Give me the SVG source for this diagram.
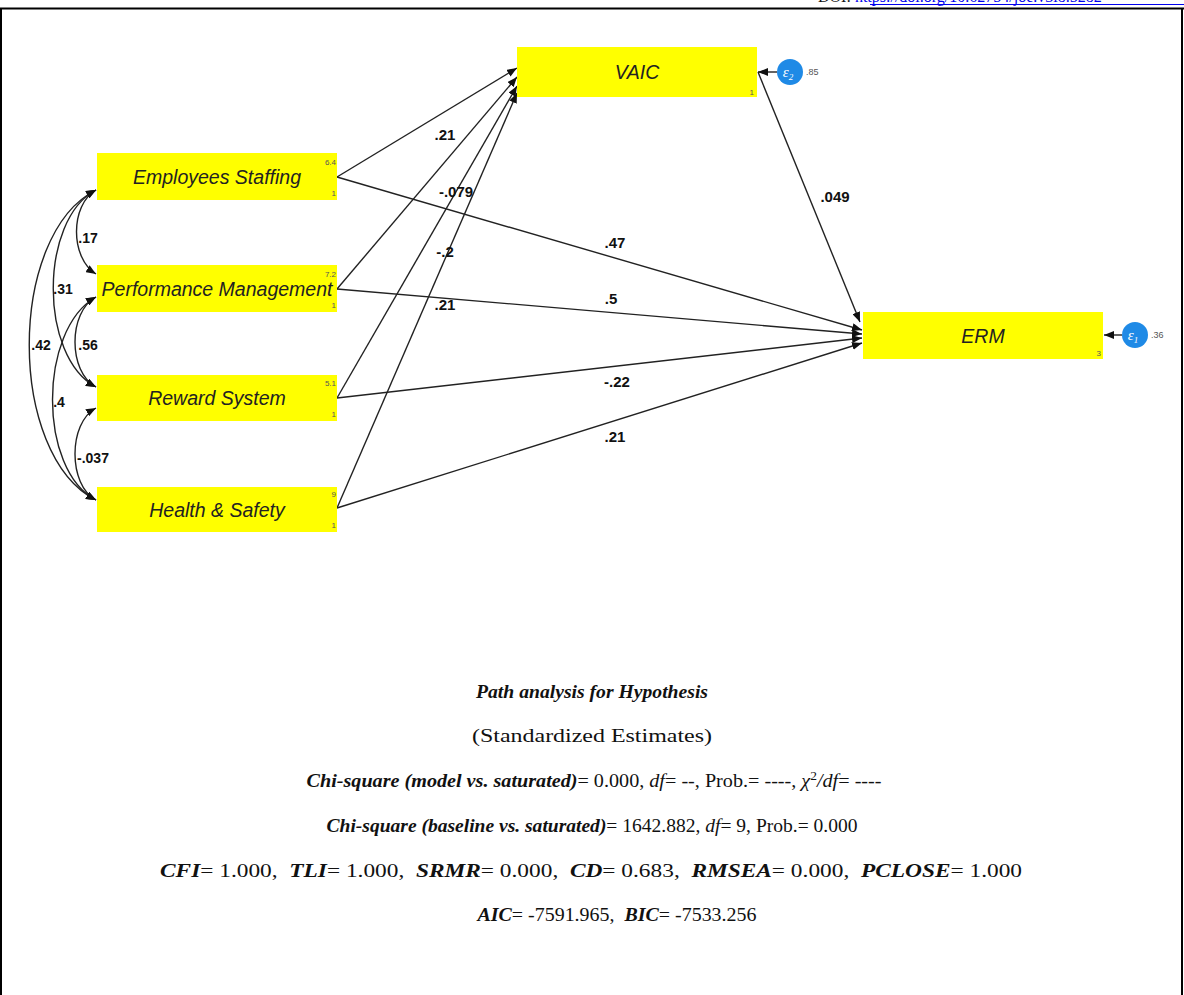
<svg xmlns="http://www.w3.org/2000/svg" width="1184" height="995" viewBox="0 0 1184 995">
<style>
.box{fill:#FFFF00;}
.lbl{font-family:"Liberation Sans",Arial,sans-serif;font-style:italic;font-size:19.5px;fill:#222;text-anchor:middle;}
.sm{font-family:"Liberation Sans",Arial,sans-serif;font-size:8px;fill:#555;text-anchor:end;}
.coef{font-family:"Liberation Sans",Arial,sans-serif;font-weight:bold;font-size:15px;fill:#111;text-anchor:middle;}
.cov{font-family:"Liberation Sans",Arial,sans-serif;font-weight:bold;font-size:14px;fill:#111;text-anchor:middle;}
.edge{fill:none;stroke:#222;stroke-width:1.4;}
.err{fill:#1F8AE6;}
.errt{font-family:"Liberation Serif",serif;font-style:italic;font-size:15px;fill:#fff;text-anchor:middle;}
.errv{font-family:"Liberation Sans",Arial,sans-serif;font-size:9px;fill:#555;}
.cap{font-family:"Liberation Serif","Times New Roman",serif;font-size:18px;fill:#111;text-anchor:middle;}
.bi{font-weight:bold;font-style:italic;}
.it{font-style:italic;}
</style>
<defs>
<marker id="ah" viewBox="0 0 10 8" refX="10" refY="4" markerWidth="10" markerHeight="8" markerUnits="userSpaceOnUse" orient="auto-start-reverse">
<path d="M0,0 L10,4 L0,8 z" fill="#111"/>
</marker>
</defs>
<rect x="0" y="0" width="1184" height="995" fill="#fff"/>
<g id="frame">
<text x="818" y="2" font-family="Liberation Serif,serif" font-size="16" fill="#111">DOI: <tspan fill="#0000EE">https://doi.org/10.62754/joe.v3i8.5282</tspan></text>
<line x1="870" y1="4.5" x2="1184" y2="4.5" stroke="#0000EE" stroke-width="1"/>
<line x1="0" y1="8.5" x2="1184" y2="8.5" stroke="#000" stroke-width="2"/>
<line x1="1" y1="8" x2="1" y2="995" stroke="#000" stroke-width="2"/>
<line x1="1182" y1="8" x2="1182" y2="995" stroke="#000" stroke-width="2"/>
</g>
<g id="connectors">
<line class="edge" x1="337" y1="177" x2="517" y2="68" marker-end="url(#ah)"/>
<line class="edge" x1="337" y1="289" x2="517" y2="77" marker-end="url(#ah)"/>
<line class="edge" x1="337" y1="398" x2="517" y2="86" marker-end="url(#ah)"/>
<line class="edge" x1="337" y1="508" x2="517" y2="93" marker-end="url(#ah)"/>
<line class="edge" x1="337" y1="177" x2="862" y2="330" marker-end="url(#ah)"/>
<line class="edge" x1="337" y1="289" x2="862" y2="334" marker-end="url(#ah)"/>
<line class="edge" x1="337" y1="398" x2="862" y2="338" marker-end="url(#ah)"/>
<line class="edge" x1="337" y1="508" x2="862" y2="343" marker-end="url(#ah)"/>
<line class="edge" x1="758" y1="72" x2="860" y2="322" marker-end="url(#ah)"/>
<line class="edge" x1="777" y1="72" x2="758" y2="72" marker-end="url(#ah)"/>
<line class="edge" x1="1122" y1="335" x2="1104" y2="335" marker-end="url(#ah)"/>
<path class="edge" d="M96,190 C70,205 70,258 96,274" marker-start="url(#ah)" marker-end="url(#ah)"/>
<path class="edge" d="M96,190 C39,220 39,357 96,387" marker-start="url(#ah)" marker-end="url(#ah)"/>
<path class="edge" d="M96,190 C7,235 7,455 96,500" marker-start="url(#ah)" marker-end="url(#ah)"/>
<path class="edge" d="M96,297 C68,312 68,372 96,387" marker-start="url(#ah)" marker-end="url(#ah)"/>
<path class="edge" d="M96,297 C38,330 38,470 96,500" marker-start="url(#ah)" marker-end="url(#ah)"/>
<path class="edge" d="M96,408 C68,423 68,485 96,500" marker-start="url(#ah)" marker-end="url(#ah)"/>
<text class="coef" x="445" y="140">.21</text>
<text class="coef" x="456" y="197">-.079</text>
<text class="coef" x="615" y="248">.47</text>
<text class="coef" x="445" y="257">-.2</text>
<text class="coef" x="445" y="310">.21</text>
<text class="coef" x="611" y="304">.5</text>
<text class="coef" x="617" y="387">-.22</text>
<text class="coef" x="615" y="442">.21</text>
<text class="coef" x="835" y="202">.049</text>
<text class="cov" x="88" y="243">.17</text>
<text class="cov" x="63" y="294">.31</text>
<text class="cov" x="41" y="350">.42</text>
<text class="cov" x="88" y="350">.56</text>
<text class="cov" x="59" y="407">.4</text>
<text class="cov" x="93" y="463">-.037</text>
</g>
<g id="vaic">
<rect class="box" x="517" y="47" width="240" height="50"/>
<text class="lbl" x="637" y="79">VAIC</text>
<text class="sm" x="754" y="95">1</text>
</g>
<g id="e2">
<circle class="err" cx="790" cy="72" r="13"/>
<text class="errt" x="788" y="77">ε<tspan font-size="9" dy="3">2</tspan></text>
<text class="errv" x="806" y="75">.85</text>
</g>
<g id="employees">
<rect class="box" x="97" y="153" width="240" height="47"/>
<text class="lbl" x="217" y="184">Employees Staffing</text>
<text class="sm" x="336" y="165">6.4</text>
<text class="sm" x="336" y="196">1</text>
</g>
<g id="performance">
<rect class="box" x="97" y="265" width="240" height="47"/>
<text class="lbl" x="217" y="296">Performance Management</text>
<text class="sm" x="336" y="277">7.2</text>
<text class="sm" x="336" y="308">1</text>
</g>
<g id="reward">
<rect class="box" x="97" y="375" width="240" height="46"/>
<text class="lbl" x="217" y="405">Reward System</text>
<text class="sm" x="336" y="386">5.1</text>
<text class="sm" x="336" y="417">1</text>
</g>
<g id="health">
<rect class="box" x="97" y="487" width="240" height="45"/>
<text class="lbl" x="217" y="517">Health &amp; Safety</text>
<text class="sm" x="336" y="497">9</text>
<text class="sm" x="336" y="528">1</text>
</g>
<g id="erm">
<rect class="box" x="863" y="312" width="240" height="47"/>
<text class="lbl" x="983" y="343">ERM</text>
<text class="sm" x="1101" y="356">3</text>
</g>
<g id="e1">
<circle class="err" cx="1135" cy="335" r="13"/>
<text class="errt" x="1133" y="340">ε<tspan font-size="9" dy="3">1</tspan></text>
<text class="errv" x="1151" y="338">.36</text>
</g>
<g id="caption">
<text class="cap bi" x="592" y="698" textLength="232" lengthAdjust="spacingAndGlyphs">Path analysis for Hypothesis</text>
<text class="cap" x="592" y="742" textLength="240" lengthAdjust="spacingAndGlyphs">(Standardized Estimates)</text>
<text class="cap" x="594" y="787" textLength="575" lengthAdjust="spacingAndGlyphs"><tspan class="bi">Chi-square (model vs. saturated)</tspan>= 0.000, <tspan class="it">df</tspan>= --, Prob.= ----, <tspan class="it">χ</tspan><tspan font-size="12" dy="-7">2</tspan><tspan dy="7" class="it">/df</tspan>= ----</text>
<text class="cap" x="592" y="832" textLength="531" lengthAdjust="spacingAndGlyphs"><tspan class="bi">Chi-square (baseline vs. saturated)</tspan>= 1642.882, <tspan class="it">df</tspan>= 9, Prob.= 0.000</text>
<text class="cap" x="591" y="877" textLength="862" lengthAdjust="spacingAndGlyphs" xml:space="preserve"><tspan class="bi">CFI</tspan>= 1.000,  <tspan class="bi">TLI</tspan>= 1.000,  <tspan class="bi">SRMR</tspan>= 0.000,  <tspan class="bi">CD</tspan>= 0.683,  <tspan class="bi">RMSEA</tspan>= 0.000,  <tspan class="bi">PCLOSE</tspan>= 1.000</text>
<text class="cap" x="617" y="921" textLength="279" lengthAdjust="spacingAndGlyphs" xml:space="preserve"><tspan class="bi">AIC</tspan>= -7591.965,  <tspan class="bi">BIC</tspan>= -7533.256</text>
</g>
</svg>
